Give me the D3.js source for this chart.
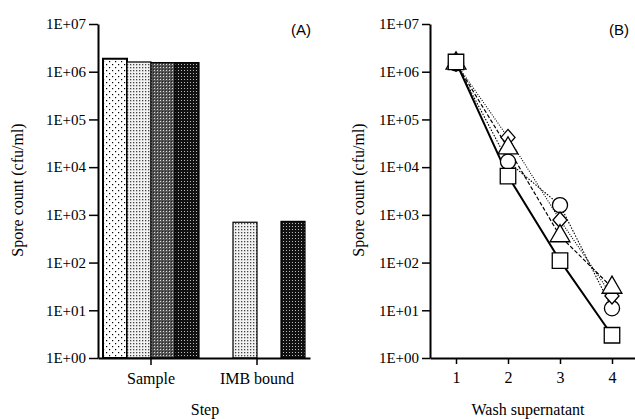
<!DOCTYPE html>
<html>
<head>
<meta charset="utf-8">
<script src="https://cdn.jsdelivr.net/npm/d3@7"></script>
<style>
  body { margin: 0; background: #fff; }
  svg { display: block; }
  .tick text { font-family: "Liberation Serif", serif; font-size: 16px; fill: #000; }
  .yaxis .tick text { font-size: 15px; }
</style>
</head>
<body>
<svg id="chart"></svg>
<script>
// data
var steps = ["Sample", "IMB bound"];
var barSeries = ["s1", "s2", "s3", "s4"];
var sampleValues = [1.87e6, 1.6e6, 1.55e6, 1.55e6];
var imbValues = [null, 700, null, 730];

var washes = [1, 2, 3, 4];
var squareValues = [1.6e6, 6.5e3, 110, 3];
var triangleValues = [1.5e6, 2.5e4, 360, 30];
var circleValues = [1.5e6, 1.3e4, 1.6e3, 11];
var diamondValues = [1.5e6, 4.2e4, 780, 20];

var yTicks = [1, 1e1, 1e2, 1e3, 1e4, 1e5, 1e6, 1e7];

// parameters
var width = 635;
var height = 419;

var svg = d3.select("#chart");
svg.attr("width", width);
svg.attr("height", height);

// patterns for the bars
var defs = svg.append("defs");

function pattern(id, size) {
  var p = defs.append("pattern");
  p.attr("id", id);
  p.attr("patternUnits", "userSpaceOnUse");
  p.attr("width", size);
  p.attr("height", size);
  return p;
}

var p1 = pattern("p1", 6);
p1.append("rect").attr("width", 6).attr("height", 6).attr("fill", "#fff");
p1.append("rect").attr("x", 1).attr("y", 1).attr("width", 1.2).attr("height", 1.2).attr("fill", "#000");
p1.append("rect").attr("x", 4).attr("y", 4).attr("width", 1.2).attr("height", 1.2).attr("fill", "#000");

var p2 = pattern("p2", 3);
p2.append("rect").attr("width", 3).attr("height", 3).attr("fill", "#f2f2f2");
p2.append("rect").attr("x", 1).attr("y", 1).attr("width", 1.3).attr("height", 1.3).attr("fill", "#444");

var p3 = pattern("p3", 3);
p3.append("rect").attr("width", 3).attr("height", 3).attr("fill", "#555");
p3.append("rect").attr("x", 1).attr("y", 1).attr("width", 1).attr("height", 1).attr("fill", "#ddd");
p3.append("rect").attr("x", 0).attr("y", 0).attr("width", 1).attr("height", 1).attr("fill", "#222");

var p4 = pattern("p4", 3);
p4.append("rect").attr("width", 3).attr("height", 3).attr("fill", "#111");
p4.append("rect").attr("x", 1).attr("y", 1).attr("width", 1).attr("height", 1).attr("fill", "#bbb");

var fills = ["url(#p1)", "url(#p2)", "url(#p3)", "url(#p4)"];

function expLabel(d) {
  var e = Math.round(Math.log10(d));
  return "1E+" + (e < 10 ? "0" + e : e);
}

function styleAxis(g) {
  g.select(".domain").attr("stroke", "#000").attr("stroke-width", 2);
  g.selectAll(".tick line").attr("stroke", "#000").attr("stroke-width", 1.5);
}

/////////////////////////////////////////////////
// panel A

var yA = d3.scaleLog().domain([1, 1e7]).range([358, 24]);
var xA = d3.scaleBand().domain(steps).range([98, 310]);
var xInner = d3.scaleBand().domain(barSeries).range([0, 96]);
var innerOffset = (xA.bandwidth() - 96) / 2;

var barGroups = [sampleValues, imbValues];

for (var g = 0; g < steps.length; g += 1) {
  for (var i = 0; i < barSeries.length; i += 1) {
    var v = barGroups[g][i];
    if (v == null) continue;
    var bar = svg.append("rect");
    bar.attr("x", xA(steps[g]) + innerOffset + xInner(barSeries[i]));
    bar.attr("y", yA(v));
    bar.attr("width", xInner.bandwidth());
    bar.attr("height", yA(1) - yA(v));
    bar.attr("fill", fills[i]);
    bar.attr("stroke", "#000");
    bar.attr("stroke-width", i == 0 ? 2 : 1.2);
  }
}

var axisAy = svg.append("g").attr("class", "yaxis").attr("transform", "translate(98,0)");
axisAy.call(d3.axisLeft(yA).tickValues(yTicks).tickFormat(expLabel).tickSize(9).tickSizeOuter(0).tickPadding(3));
styleAxis(axisAy);

var axisAx = svg.append("g").attr("transform", "translate(0,358)");
axisAx.call(d3.axisBottom(xA).tickSize(7).tickSizeOuter(0).tickPadding(8));
styleAxis(axisAx);

svg.append("text")
  .attr("transform", "translate(23,190) rotate(-90)")
  .attr("text-anchor", "middle")
  .attr("font-family", "Liberation Serif, serif")
  .attr("font-size", "16px")
  .text("Spore count (cfu/ml)");

svg.append("text")
  .attr("x", 205)
  .attr("y", 415)
  .attr("text-anchor", "middle")
  .attr("font-family", "Liberation Serif, serif")
  .attr("font-size", "16px")
  .text("Step");

svg.append("text")
  .attr("x", 301)
  .attr("y", 35)
  .attr("text-anchor", "middle")
  .attr("font-family", "Liberation Sans, sans-serif")
  .attr("font-size", "15px")
  .text("(A)");

/////////////////////////////////////////////////
// panel B

var yB = d3.scaleLog().domain([1, 1e7]).range([358, 24]);
var xB = d3.scaleLinear().domain([0.5, 4.5]).range([430, 638]);

var lineSeries = [
  { values: squareValues, shape: "square", dash: null, width: 2 },
  { values: triangleValues, shape: "triangle", dash: "4,2", width: 1.2 },
  { values: circleValues, shape: "circle", dash: "1.5,1.5", width: 1.1 },
  { values: diamondValues, shape: "diamond", dash: "1,1.5", width: 1.1 }
];

var line = d3.line()
  .x(function (d, i) { return xB(washes[i]); })
  .y(function (d) { return yB(d); });

for (var s = lineSeries.length - 1; s >= 0; s -= 1) {
  var path = svg.append("path");
  path.attr("d", line(lineSeries[s].values));
  path.attr("stroke", "#000");
  path.attr("stroke-width", lineSeries[s].width);
  path.attr("fill", "none");
  if (lineSeries[s].dash) path.style("stroke-dasharray", lineSeries[s].dash);
}

// a diamond a bit wider than d3's own
var wideDiamond = {
  draw: function (context, size) {
    var h = Math.sqrt(size) / 1.4;
    var w = h * 0.88;
    context.moveTo(0, -h);
    context.lineTo(w, 0);
    context.lineTo(0, h);
    context.lineTo(-w, 0);
    context.closePath();
  }
};

var symbols = {
  square: d3.symbol().type(d3.symbolSquare).size(240),
  triangle: d3.symbol().type(d3.symbolTriangle).size(170),
  circle: d3.symbol().type(d3.symbolCircle).size(180),
  diamond: d3.symbol().type(wideDiamond).size(125)
};

// points: circles first, then diamonds, triangles, squares on top at x=1
var drawOrder = [2, 3, 1, 0];
for (var k = 0; k < drawOrder.length; k += 1) {
  var ser = lineSeries[drawOrder[k]];
  for (var i = 0; i < washes.length; i += 1) {
    var mark = svg.append("path");
    mark.attr("d", symbols[ser.shape]());
    mark.attr("transform", "translate(" + xB(washes[i]) + "," + yB(ser.values[i]) + ")");
    mark.attr("fill", "#fff");
    mark.attr("stroke", "#000");
    mark.attr("stroke-width", 1.3);
  }
}

var axisBy = svg.append("g").attr("class", "yaxis").attr("transform", "translate(430,0)");
axisBy.call(d3.axisLeft(yB).tickValues(yTicks).tickFormat(expLabel).tickSize(8).tickSizeOuter(0).tickPadding(3));
styleAxis(axisBy);

var axisBx = svg.append("g").attr("transform", "translate(0,358)");
axisBx.call(d3.axisBottom(xB).tickValues(washes).tickFormat(d3.format("d")).tickSize(6).tickSizeOuter(0).tickPadding(8));
styleAxis(axisBx);

svg.append("text")
  .attr("transform", "translate(364,190) rotate(-90)")
  .attr("text-anchor", "middle")
  .attr("font-family", "Liberation Serif, serif")
  .attr("font-size", "16px")
  .text("Spore count (cfu/ml)");

svg.append("text")
  .attr("x", 528)
  .attr("y", 415)
  .attr("text-anchor", "middle")
  .attr("font-family", "Liberation Serif, serif")
  .attr("font-size", "16px")
  .text("Wash supernatant");

svg.append("text")
  .attr("x", 619)
  .attr("y", 35)
  .attr("text-anchor", "middle")
  .attr("font-family", "Liberation Sans, sans-serif")
  .attr("font-size", "15px")
  .text("(B)");
</script>
</body>
</html>
